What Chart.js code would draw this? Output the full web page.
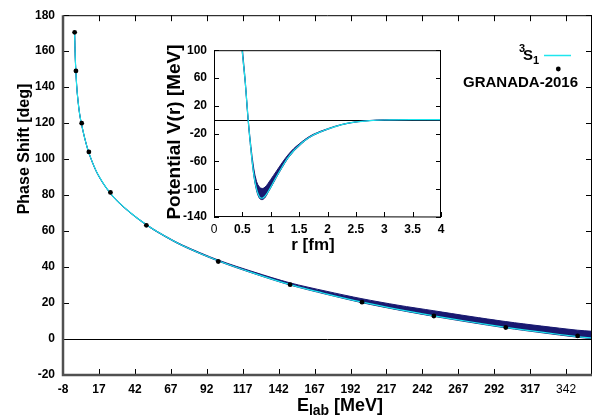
<!DOCTYPE html>
<html>
<head>
<meta charset="utf-8">
<script src="https://cdn.jsdelivr.net/npm/chart.js@4.4.1/dist/chart.umd.min.js"></script>
<style>
  body { margin: 0; background: #fff; }
  #wrap { position: relative; width: 608px; height: 418px; }
  #main { position: absolute; left: 0; top: 0; }
  #inset { position: absolute; left: 160px; top: 36px; }
</style>
</head>
<body>
<div id="wrap">
  <canvas id="main" width="608" height="418"></canvas>
  <canvas id="inset" width="295" height="225"></canvas>
</div>
<script>
// main panel: 3S1 phase shift vs E_lab
const xTicks = [-8, 17, 42, 67, 92, 117, 142, 167, 192, 217, 242, 267, 292, 317, 342];
const eCurve = [0.1, 0.3, 0.6, 1, 1.5, 2, 3, 4, 5, 7, 10, 15, 20, 25, 30, 40, 50, 60, 75, 100, 125, 150, 175, 200, 225, 250, 275, 300, 325, 350, 360];
const phaseCurve = [169.5, 163, 155, 148, 141, 136, 128.5, 123, 119, 112, 103.5, 93.5, 86.5, 81, 76.5, 69.5, 63.5, 58.5, 52, 43.5, 36.5, 30.2, 25.1, 20.5, 16.5, 12.9, 9.6, 6.5, 3.8, 1.3, 0.5];
const bandUpper = [169.6, 163.1, 155.1, 148.1, 141.1, 136.1, 128.6, 123.1, 119.1, 112.1, 103.6, 93.6, 86.6, 81.1, 76.6, 69.6, 63.7, 58.7, 52.3, 43.9, 37.2, 31.2, 26.6, 22.4, 18.8, 15.7, 12.6, 9.7, 7.2, 4.9, 4.3];
const bandLower = [169.3, 162.8, 154.8, 147.8, 140.8, 135.8, 128.3, 122.8, 118.8, 111.8, 103.3, 93.3, 86.3, 80.8, 76.3, 69.3, 63.3, 58.3, 51.8, 43.3, 36.3, 30, 24.9, 20.2, 16.2, 12.6, 9.3, 6.2, 3.5, 1.0, 0.2];
const granadaE = [0.1, 1, 5, 10, 25, 50, 100, 150, 200, 250, 300, 350];
const granadaPhase = [170.5, 149, 120, 104, 81.5, 63.2, 43.1, 30.2, 20.5, 12.8, 6.4, 1.7];

// inset: potential V(r)
const rGrid = [0.45, 0.5, 0.55, 0.6, 0.65, 0.7, 0.75, 0.8, 0.85, 0.9, 0.95, 1.0, 1.1, 1.2, 1.3, 1.4, 1.5, 1.6, 1.75, 2.0, 2.25, 2.5, 2.75, 3.0, 3.5, 4.0];
const vCentral = [150, 97, 55, 2, -42, -78, -100, -111, -113, -110, -104, -97, -82, -68, -55, -45, -37, -30, -22, -13.5, -7, -3.2, -1.2, -0.4, 0, 0];
const vUpper = [160, 103, 57, 3, -38, -70, -89, -97, -99, -97, -92, -86, -74, -62, -51, -42, -35, -28.5, -21, -13, -6.8, -3, -1.1, -0.4, 0, 0];
const vLower = [148, 95, 53, 0, -44, -80, -102, -113, -115, -112, -105, -98, -83, -69, -56, -46, -38, -30.5, -22.5, -14, -7.3, -3.4, -1.3, -0.5, 0, 0];
const insetTicksX = [0, 0.5, 1, 1.5, 2, 2.5, 3, 3.5, 4];

const NAVY = '#191970';
const CYAN = '#1ee6ee';
const FONT = "'Liberation Sans', Arial, sans-serif";

const pts = (xs, ys) => xs.map((x, i) => ({ x: x, y: ys[i] }));

function frame(opts) {
  return {
    id: 'frame',
    beforeDatasetsDraw(chart) {
      const ctx = chart.ctx, ca = chart.chartArea, y0 = chart.scales.y.getPixelForValue(0);
      ctx.save();
      ctx.strokeStyle = '#000';
      ctx.lineWidth = 1;
      ctx.beginPath();
      ctx.moveTo(ca.left, Math.round(y0) + 0.5);
      ctx.lineTo(ca.right, Math.round(y0) + 0.5);
      ctx.stroke();
      ctx.restore();
    },
    afterDraw(chart) {
      const ctx = chart.ctx, ca = chart.chartArea;
      const xs = chart.scales.x, ys = chart.scales.y;
      const tl = opts.tick;
      ctx.save();
      ctx.strokeStyle = '#000';
      ctx.lineWidth = 1;
      ctx.beginPath();
      xs.ticks.forEach(t => {
        const x = Math.round(xs.getPixelForValue(t.value)) + 0.5;
        ctx.moveTo(x, ca.bottom); ctx.lineTo(x, ca.bottom - tl);
        if (opts.topTicks) { ctx.moveTo(x, ca.top); ctx.lineTo(x, ca.top + tl); }
      });
      ys.ticks.forEach(t => {
        const y = Math.round(ys.getPixelForValue(t.value)) + 0.5;
        ctx.moveTo(ca.left, y); ctx.lineTo(ca.left + tl, y);
        ctx.moveTo(ca.right, y); ctx.lineTo(ca.right - tl, y);
      });
      ctx.stroke();
      ctx.beginPath();
      ctx.moveTo(ca.left, ca.top + 0.5); ctx.lineTo(ca.right - 0.5, ca.top + 0.5);
      ctx.lineTo(ca.right - 0.5, ca.bottom);
      if (!opts.thick) { ctx.lineTo(ca.left + 0.5, ca.bottom - 0.5); ctx.lineTo(ca.left + 0.5, ca.top); }
      ctx.stroke();
      if (opts.thick) {
        ctx.strokeStyle = '#505050';
        ctx.lineWidth = 2.5;
        ctx.beginPath();
        ctx.moveTo(ca.left, ca.top); ctx.lineTo(ca.left, ca.bottom); ctx.lineTo(ca.right, ca.bottom);
        ctx.stroke();
      }
      ctx.restore();
      opts.texts(ctx, ca);
    }
  };
}

function bold(px) { return 'bold ' + px + 'px ' + FONT; }

new Chart(document.getElementById('main'), {
  type: 'line',
  data: {
    datasets: [
      { data: pts(eCurve, bandUpper), order: 3, borderColor: NAVY, backgroundColor: NAVY, borderWidth: 1, pointRadius: 0, fill: '+1', tension: 0.3 },
      { data: pts(eCurve, bandLower), order: 4, borderColor: NAVY, borderWidth: 1, pointRadius: 0, fill: false, tension: 0.3 },
      { data: pts(eCurve, phaseCurve), order: 1, borderColor: CYAN, borderWidth: 1.2, pointRadius: 0, fill: false, tension: 0.3 },
      { data: pts(granadaE, granadaPhase), order: 0, showLine: false, pointRadius: 2.4, pointBackgroundColor: '#000', pointBorderWidth: 0 }
    ]
  },
  options: {
    responsive: false,
    animation: false,
    layout: { padding: { top: 13, right: 16, left: 0, bottom: 0 } },
    plugins: { legend: { display: false }, tooltip: { enabled: false } },
    scales: {
      x: {
        type: 'linear', min: -8, max: 360,
        afterBuildTicks: s => { s.ticks = xTicks.map(v => ({ value: v })); },
        afterFit: s => { s.height = 43; },
        grid: { display: false, drawTicks: false },
        border: { display: false },
        ticks: {
          padding: 7, color: '#000', maxRotation: 0, autoSkip: false,
          font: c => ({ family: FONT, size: 12, weight: (c.tick && c.tick.value === 342) ? 'normal' : 'bold' })
        }
      },
      y: {
        min: -20, max: 180,
        afterFit: s => { s.width = 63; },
        grid: { display: false, drawTicks: false },
        border: { display: false },
        ticks: { stepSize: 20, padding: 8, color: '#000', font: { family: FONT, size: 12, weight: 'bold' } }
      }
    }
  },
  plugins: [frame({
    tick: 6, topTicks: true, thick: true,
    texts(ctx, ca) {
      ctx.save();
      ctx.fillStyle = '#000';
      // y title
      ctx.font = bold(16);
      ctx.translate(25, 149);
      ctx.rotate(-Math.PI / 2);
      ctx.textAlign = 'center';
      ctx.textBaseline = 'middle';
      ctx.fillText('Phase Shift [deg]', 0, 0);
      ctx.restore();
      // x title with subscript
      ctx.save();
      ctx.fillStyle = '#000';
      ctx.textBaseline = 'alphabetic';
      const big = bold(18), small = bold(14);
      ctx.font = big; const wE = ctx.measureText('E').width, wR = ctx.measureText(' [MeV]').width;
      ctx.font = small; const wS = ctx.measureText('lab').width;
      let x = 340 - (wE + wS + wR) / 2, base = 411;
      ctx.font = big; ctx.fillText('E', x, base); x += wE;
      ctx.font = small; ctx.fillText('lab', x, base + 4); x += wS;
      ctx.font = big; ctx.fillText(' [MeV]', x, base);
      // legend
      ctx.textAlign = 'left';
      ctx.font = bold(11); ctx.fillText('3', 519, 52);
      ctx.font = bold(15); ctx.fillText('S', 523, 60);
      ctx.font = bold(11); ctx.fillText('1', 533, 64);
      ctx.strokeStyle = CYAN; ctx.lineWidth = 1.5;
      ctx.beginPath(); ctx.moveTo(544, 55.5); ctx.lineTo(571, 55.5); ctx.stroke();
      ctx.beginPath(); ctx.arc(558.3, 69, 2.4, 0, Math.PI * 2); ctx.fill();
      ctx.font = bold(15); ctx.textAlign = 'right';
      ctx.fillText('GRANADA-2016', 578, 87);
      ctx.restore();
    }
  })]
});

new Chart(document.getElementById('inset'), {
  type: 'line',
  data: {
    datasets: [
      { data: pts(rGrid, vUpper), order: 2, borderColor: NAVY, backgroundColor: NAVY, borderWidth: 1, pointRadius: 0, fill: '+1', tension: 0.35 },
      { data: pts(rGrid, vLower), order: 3, borderColor: NAVY, borderWidth: 1, pointRadius: 0, fill: false, tension: 0.35 },
      { data: pts(rGrid, vCentral), order: 1, borderColor: CYAN, borderWidth: 1.2, pointRadius: 0, fill: false, tension: 0.35 }
    ]
  },
  options: {
    responsive: false,
    animation: false,
    layout: { padding: { top: 10, right: 14, left: 0, bottom: 0 } },
    plugins: { legend: { display: false }, tooltip: { enabled: false } },
    scales: {
      x: {
        type: 'linear', min: 0, max: 4,
        afterBuildTicks: s => { s.ticks = insetTicksX.map(v => ({ value: v })); },
        afterFit: s => { s.height = 44; },
        grid: { display: false, drawTicks: false },
        border: { display: false },
        ticks: {
          padding: 5, color: '#000', maxRotation: 0, autoSkip: false,
          callback: v => String(v),
          font: c => ({ family: FONT, size: 12, weight: (c.tick && c.tick.value === 0) ? 'normal' : 'bold' })
        }
      },
      y: {
        min: -140, max: 100,
        afterFit: s => { s.width = 54; },
        grid: { display: false, drawTicks: false },
        border: { display: false },
        ticks: { stepSize: 40, padding: 7, color: '#000', font: { family: FONT, size: 12, weight: 'bold' } }
      }
    }
  },
  plugins: [frame({
    tick: 5, topTicks: false, thick: false,
    texts(ctx, ca) {
      ctx.save();
      ctx.fillStyle = '#000';
      ctx.font = bold(17);
      ctx.textAlign = 'center';
      ctx.textBaseline = 'middle';
      ctx.fillText('r [fm]', 153, 209);
      ctx.font = bold(19);
      ctx.translate(15, 96);
      ctx.rotate(-Math.PI / 2);
      ctx.fillText('Potential V(r) [MeV]', 0, 0);
      ctx.restore();
    }
  })]
});
</script>
</body>
</html>
